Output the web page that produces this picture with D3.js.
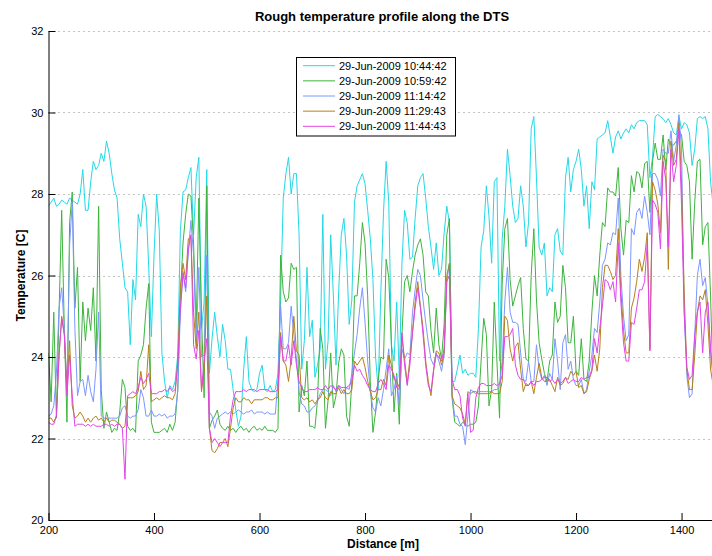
<!DOCTYPE html>
<html><head><meta charset="utf-8">
<script src="https://cdn.jsdelivr.net/npm/d3@7"></script>
<style>
html,body{margin:0;padding:0;background:#fff;}
svg{display:block;font-family:"Liberation Sans",Arial,Helvetica,sans-serif;}
</style></head><body>
<svg id="chart" width="712" height="556"></svg>
<script>
// Fibre positions along the DTS cable, one reading every 5 m
const distance = d3.range(200, 1461, 5);

const xTicks = [200, 400, 600, 800, 1000, 1200, 1400];
const yTicks = [20, 22, 24, 26, 28, 30, 32];

const traceLabels = [
  "29-Jun-2009 10:44:42",
  "29-Jun-2009 10:59:42",
  "29-Jun-2009 11:14:42",
  "29-Jun-2009 11:29:43",
  "29-Jun-2009 11:44:43"
];
const traceColors = ["#22d8e6", "#3cb43c", "#7d96ff", "#b5801a", "#e244e8"];

// Temperature [C] per trace
const t104442 = [
  27.7,27.8,27.9,27.7,27.75,27.85,27.8,27.75,27.9,27.85,27.8,27.75,28.0,28.6,27.6,27.6,28.3,28.8,28.6,28.7,29.0,28.8,29.3,29.0,28.5,28.1,27.9,26.9,26.3,25.7,25.6,24.3,25.9,25.4,27.5,27.2,28.0,27.7,26.2,24.5,26.5,28.0,27.1,
  24.1,23.4,23.0,23.3,23.2,23.4,24.05,27.1,28.05,28.1,28.4,28.65,27.0,28.4,28.9,24.7,25.35,28.6,23.6,24.45,25.1,24.5,24.0,24.8,24.4,23.7,23.7,23.2,22.7,22.3,22.55,23.7,24.5,23.4,23.2,23.15,23.2,23.6,23.8,23.2,23.15,23.3,
  23.15,23.2,23.6,25.4,27.9,28.5,28.9,28.0,28.5,28.5,27.0,23.7,24.4,26.2,24.5,24.9,23.5,23.8,24.2,27.5,23.7,24.4,27.0,25.5,23.8,25.6,27.0,27.4,26.5,24.8,25.4,27.8,28.2,28.35,28.5,28.25,27.6,26.9,25.9,24.0,23.2,25.6,
  27.55,28.8,27.8,24.3,23.9,25.35,23.5,26.3,27.6,27.3,26.4,26.45,27.4,28.2,28.4,28.5,27.9,27.2,26.7,26.15,26.8,26.0,26.15,27.05,27.7,27.3,23.4,23.4,23.7,24.05,23.6,23.7,23.55,23.6,23.6,23.5,24.7,26.7,27.1,28.2,
  27.45,26.3,28.3,28.4,23.9,26.9,27.7,29.1,28.45,27.7,27.3,27.4,28.2,27.7,26.7,27.3,29.6,29.9,28.4,26.7,26.5,26.8,25.5,25.7,25.6,27.0,27.15,26.6,26.5,28.4,28.9,28.05,28.6,28.8,29.1,28.6,27.7,28.2,27.15,28.3,28.1,29.35,29.4,
  29.45,29.5,29.8,29.4,29.0,29.4,29.55,29.35,29.5,29.6,29.5,29.7,29.6,29.75,29.8,29.8,29.8,29.7,28.4,28.9,29.9,29.95,29.9,29.85,29.75,29.85,29.7,29.5,29.45,29.9,29.6,29.75,29.7,29.5,28.7,29.1,29.85,29.9,29.85,29.9,29.6,28.3,27.7
];
const t105942 = [
  24.1,22.9,25.1,22.5,25.1,27.6,24.7,22.4,27.3,28.05,25.2,26.2,23.4,25.35,24.4,25.2,24.65,25.7,23.9,27.7,23.2,22.25,22.65,22.4,22.15,22.25,22.2,22.65,23.45,23.25,22.3,22.2,22.25,22.15,23.9,24.05,24.3,25.2,25.8,22.4,22.15,22.15,22.15,
  22.2,22.25,22.15,22.35,22.2,22.4,23.2,25.5,26.8,27.5,28.0,27.95,26.8,24.7,27.9,25.0,23.0,28.2,22.25,22.45,22.55,22.7,22.35,22.25,22.2,22.3,22.2,22.25,22.15,22.25,22.3,22.2,22.25,22.15,22.25,22.3,22.2,22.25,22.2,22.3,22.2,22.2,
  22.2,22.15,22.25,26.5,25.6,25.35,25.45,26.3,26.15,26.2,22.65,23.3,23.05,23.9,22.3,22.3,22.25,22.95,24.7,24.2,22.25,22.95,24.1,22.75,23.05,23.85,24.2,24.05,22.55,22.3,23.4,25.5,25.5,26.3,27.3,26.8,25.5,23.4,22.15,22.65,23.45,24.0,
  23.95,26.4,25.95,24.3,22.65,23.6,22.35,24.55,25.85,26.0,25.6,26.1,26.5,26.75,26.9,26.5,25.6,25.5,24.65,24.1,25.2,24.3,23.95,24.8,27.0,27.4,23.0,22.4,22.35,22.3,22.4,22.35,22.3,22.35,22.35,22.4,22.8,23.9,24.95,24.55,
  22.8,23.2,25.35,23.9,22.5,25.8,27.15,27.4,25.9,25.25,25.5,25.75,25.95,24.7,23.95,23.9,26.0,27.15,25.4,24.35,23.95,23.6,23.4,23.9,24.05,25.35,24.85,25.0,26.25,25.7,24.35,24.35,25.0,23.65,23.55,24.45,23.45,23.4,23.9,25.1,26.0,25.5,26.5,
  27.3,27.2,28.15,28.05,28.05,27.95,28.65,27.15,26.5,27.35,27.3,28.45,28.05,28.55,28.5,28.15,28.75,28.8,27.55,28.8,29.25,28.85,28.85,29.45,28.6,29.35,29.2,29.2,29.3,29.55,29.45,28.8,28.7,28.3,26.4,27.8,28.8,28.85,26.75,27.2,27.3,25.5,23.2
];
const t111442 = [
  22.55,22.6,22.8,23.6,25.2,25.7,24.7,23.2,26.75,27.8,24.7,23.05,23.4,23.45,23.05,23.55,23.15,22.9,23.7,25.1,22.55,22.5,22.5,22.5,22.5,22.5,22.5,22.55,22.75,22.8,22.55,22.5,22.55,22.55,22.7,23.2,23.0,22.55,22.55,22.7,22.55,22.55,22.6,
  22.55,22.6,22.5,22.55,22.55,22.6,23.15,25.1,26.1,25.6,26.55,27.35,26.5,24.35,26.2,24.0,24.05,26.5,22.65,22.55,22.25,22.5,22.55,22.6,22.65,22.6,22.65,22.6,22.65,22.7,22.65,22.6,22.65,22.65,22.7,22.6,22.65,22.65,22.65,22.6,22.65,22.6,
  22.6,22.6,23.45,25.25,24.2,24.2,24.35,25.25,24.55,23.95,23.15,22.85,22.8,22.65,22.65,22.75,22.8,22.9,23.1,23.2,23.2,23.15,23.05,23.3,23.15,23.3,23.2,23.1,23.25,23.2,23.6,24.1,24.55,25.2,25.7,24.85,23.9,23.15,22.75,22.65,23.0,22.8,
  23.2,23.7,24.2,23.05,23.2,23.55,22.8,24.2,23.95,24.1,24.05,25.1,25.65,26.15,26.0,25.4,24.85,24.35,23.95,23.8,24.1,23.9,23.65,24.05,25.85,26.3,23.05,22.55,22.55,22.35,22.3,21.85,22.55,23.2,23.15,23.1,23.15,23.15,23.15,23.15,
  23.15,23.15,23.2,23.2,23.3,23.9,25.35,26.2,25.1,24.85,24.85,24.8,24.1,23.45,23.4,23.9,23.4,23.4,24.3,23.7,23.45,23.55,23.3,23.6,23.45,24.45,23.9,23.2,24.35,24.55,23.7,23.9,23.45,23.3,23.3,23.45,23.1,23.2,23.65,24.05,24.7,24.6,25.35,
  26.25,26.4,26.8,26.75,27.05,27.0,27.9,26.0,25.0,24.4,24.55,27.15,27.0,27.55,27.65,27.4,27.95,27.55,27.0,28.5,28.5,28.35,27.95,29.1,29.0,29.0,29.55,28.8,29.2,29.95,29.1,25.1,23.55,23.0,23.1,24.55,26.0,26.4,25.75,25.95,25.25,24.1,23.45
];
const t112943 = [
  22.5,22.5,22.4,22.55,24.05,25.0,24.55,23.2,24.4,22.8,22.5,22.55,22.65,22.55,22.4,22.5,22.4,22.5,22.55,22.45,22.5,22.4,22.5,22.4,22.45,22.45,22.4,22.35,22.25,22.3,23.0,23.0,23.0,23.05,23.15,23.65,23.2,23.3,24.3,22.9,22.95,23.0,22.95,
  23.0,23.05,23.0,23.0,22.95,23.1,23.9,25.7,26.3,25.9,26.9,26.95,25.1,24.2,25.1,23.15,23.7,25.5,22.25,21.7,21.65,21.75,21.9,21.9,22.0,21.8,22.25,22.75,23.0,22.9,22.9,23.0,22.95,22.95,22.85,22.95,22.95,22.95,22.95,23.0,23.0,22.95,
  22.95,23.0,23.0,24.6,23.9,23.8,23.4,23.95,25.0,24.15,24.05,23.0,22.95,23.0,22.9,22.95,22.85,22.95,23.0,23.15,23.0,22.95,23.15,23.1,23.1,23.25,23.1,23.2,23.1,23.1,23.2,23.9,23.8,23.9,24.0,23.75,23.4,23.15,22.95,23.0,23.2,23.2,
  23.45,23.3,24.05,23.8,23.45,23.4,23.25,24.5,23.95,23.35,23.95,24.6,25.35,25.85,25.25,24.7,23.9,23.4,23.05,23.65,24.15,24.1,23.8,24.1,26.0,26.3,23.05,22.85,22.8,22.75,22.6,22.35,23.15,23.1,23.15,23.15,23.1,23.1,23.1,23.1,
  23.1,23.15,23.1,23.1,23.1,23.4,25.0,24.9,24.2,23.9,24.25,24.35,23.7,23.15,23.35,23.3,23.4,23.1,23.5,23.85,23.5,23.4,23.4,23.45,23.3,23.15,23.5,23.3,23.35,23.5,23.45,23.65,23.55,23.65,23.25,23.3,23.1,23.15,23.45,23.65,24.05,23.65,24.2,
  25.7,26.25,26.25,26.1,25.9,26.0,27.15,25.6,24.65,24.1,24.1,25.2,25.45,25.85,26.4,26.1,26.45,27.05,24.2,28.3,28.1,27.75,27.05,28.95,28.8,26.15,29.3,28.7,28.85,29.75,28.25,25.6,23.7,23.2,23.2,24.05,25.1,25.5,25.4,25.65,24.8,23.7,23.3
];
const t114443 = [
  22.4,22.35,22.35,22.55,24.05,24.95,24.55,23.05,24.05,23.05,22.3,22.35,22.35,22.35,22.3,22.35,22.3,22.35,22.3,22.3,22.3,22.35,22.35,22.3,22.35,22.3,22.35,22.35,22.25,21.0,23.05,23.1,23.15,23.1,23.25,23.5,23.35,23.45,23.6,23.1,23.1,23.1,23.15,
  23.15,23.2,23.15,23.25,23.15,23.2,23.8,25.2,26.05,25.7,26.65,27.0,24.3,23.95,24.65,23.2,23.9,24.45,22.25,21.9,22.0,21.9,21.8,21.9,21.9,21.9,22.55,22.95,23.15,23.15,23.15,23.2,23.15,23.2,23.2,23.2,23.15,23.2,23.2,23.2,23.2,23.15,
  23.15,23.15,23.2,24.5,23.9,23.9,24.3,23.8,24.4,23.8,23.4,23.25,23.15,23.15,23.2,23.2,23.2,23.25,23.2,23.2,23.3,23.2,23.3,23.25,23.2,23.3,23.25,23.25,23.25,23.3,23.4,23.8,23.65,23.7,23.55,23.45,23.3,23.2,23.15,23.15,23.35,23.45,
  23.35,23.2,23.8,23.7,23.55,23.25,23.2,24.6,23.8,23.3,23.8,24.6,25.2,25.7,25.2,24.55,23.8,23.3,23.15,23.7,24.05,24.0,23.9,24.2,25.85,26.0,23.45,23.2,23.2,23.05,22.5,22.3,23.1,22.15,22.2,23.0,23.25,23.35,23.35,23.3,
  23.3,23.3,23.35,23.3,23.35,23.55,24.5,24.5,24.55,24.7,23.8,23.55,23.45,23.45,23.3,23.3,23.4,23.3,23.4,23.4,23.45,23.5,23.5,23.4,23.45,23.35,23.45,23.35,23.4,23.5,23.35,23.4,23.45,23.4,23.4,23.5,23.45,23.5,23.5,23.7,24.45,24.1,24.7,
  25.25,25.9,25.85,25.65,25.85,25.35,26.8,25.35,24.35,23.9,23.9,24.85,24.8,25.2,25.65,25.65,25.85,26.8,24.15,27.85,27.75,27.55,26.65,28.8,28.35,26.7,29.1,28.3,28.7,29.6,27.7,25.1,23.75,23.45,23.55,24.55,25.1,25.35,24.1,25.1,25.35,24.2,23.55
];
const traces = [t104442, t105942, t111442, t112943, t114443];

const svg = d3.select("#chart");
const W = 712, H = 556;
const plot = {left: 48.5, right: 713.2, top: 31, bottom: 520};

svg.append("rect").attr("width", W).attr("height", H).attr("fill", "#fff");

const x = d3.scaleLinear().domain([200, 1460]).range([plot.left, plot.right]);
const y = d3.scaleLinear().domain([20, 32]).range([plot.bottom, plot.top]);

svg.append("defs").append("clipPath").attr("id", "plotClip")
  .append("rect")
  .attr("x", plot.left).attr("y", plot.top - 1)
  .attr("width", W - plot.left).attr("height", plot.bottom - plot.top + 2);

// dotted horizontal grid
svg.append("g").selectAll("line").data(yTicks).join("line")
  .attr("x1", plot.left).attr("x2", W)
  .attr("y1", d => Math.round(y(d)) + 0.5).attr("y2", d => Math.round(y(d)) + 0.5)
  .attr("stroke", "#8a8a8a").attr("stroke-width", 1)
  .attr("stroke-dasharray", "1,4");

// temperature traces
const line = d3.line()
  .x((d, i) => x(distance[i]))
  .y(d => y(d));

svg.append("g").attr("clip-path", "url(#plotClip)")
  .selectAll("path").data(traces).join("path")
  .attr("d", d => line(d))
  .attr("fill", "none")
  .attr("stroke", (d, i) => traceColors[i])
  .attr("stroke-width", 1)
  .attr("stroke-linejoin", "round");

// axes with inward ticks
const yAxis = d3.axisLeft(y).tickValues(yTicks).tickSize(-7).tickSizeOuter(0).tickPadding(5)
  .tickFormat(d3.format("d"));
const xAxis = d3.axisBottom(x).tickValues(xTicks).tickSize(-7).tickSizeOuter(0).tickPadding(6)
  .tickFormat(d3.format("d"));

const gy = svg.append("g").attr("transform", `translate(${plot.left},0)`).call(yAxis);
const gx = svg.append("g").attr("transform", `translate(0,${plot.bottom})`).call(xAxis);
[gx, gy].forEach(g => {
  g.select(".domain").attr("stroke", "#000").attr("stroke-width", 1);
  g.selectAll(".tick line").attr("stroke", "#000").attr("stroke-width", 1);
  g.selectAll(".tick text").attr("fill", "#000")
    .style("font-family", '"Liberation Sans", Arial, Helvetica, sans-serif')
    .style("font-size", "11px");
});

// titles
svg.append("text").attr("x", 382).attr("y", 21).attr("text-anchor", "middle")
  .style("font-size", "13px").style("font-weight", "bold").text("Rough temperature profile along the DTS");
svg.append("text").attr("x", 383).attr("y", 548).attr("text-anchor", "middle")
  .style("font-size", "12px").style("font-weight", "bold").text("Distance [m]");
svg.append("text").attr("transform", "translate(25,275.5) rotate(-90)").attr("text-anchor", "middle")
  .style("font-size", "12px").style("font-weight", "bold").text("Temperature [C]");

// legend
const lg = svg.append("g");
lg.append("rect").attr("x", 296.5).attr("y", 57.5).attr("width", 159).attr("height", 78.5)
  .attr("fill", "#fff").attr("stroke", "#000").attr("stroke-width", 1);
traceLabels.forEach((lab, i) => {
  const cy = 65.7 + i * 15.15;
  lg.append("line").attr("x1", 303).attr("x2", 335).attr("y1", cy).attr("y2", cy)
    .attr("stroke", traceColors[i]).attr("stroke-width", 1);
  lg.append("text").attr("x", 339).attr("y", cy + 4)
    .style("font-size", "11px").attr("fill", "#000").text(lab);
});
</script>
</body></html>
